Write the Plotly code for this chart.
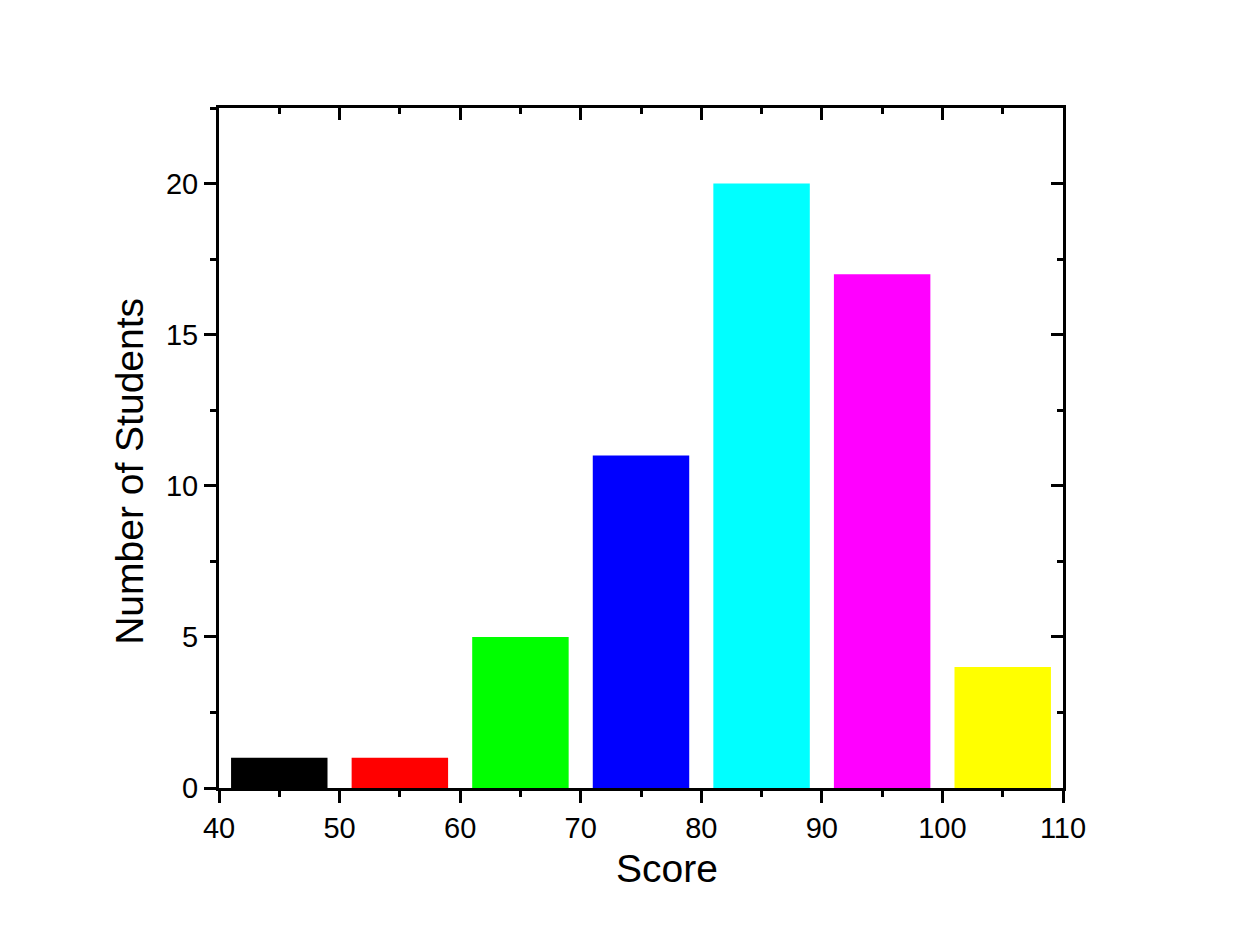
import plotly.graph_objects as go

scores = [45, 55, 65, 75, 85, 95, 105]
counts = [1, 1, 5, 11, 20, 17, 4]
colors = ["#000000", "#ff0000", "#00ff00", "#0000ff", "#00ffff", "#ff00ff", "#ffff00"]
x_ticks = [40, 50, 60, 70, 80, 90, 100, 110]
y_ticks = [0, 5, 10, 15, 20]

FONT = "Liberation Sans, Arial, sans-serif"

fig = go.Figure()
fig.add_trace(go.Bar(x=scores, y=counts, width=8, marker=dict(color=colors, line=dict(width=0)),
                     showlegend=False))
fig.add_trace(go.Scatter(x=[None], y=[None], xaxis="x2", yaxis="y2", showlegend=False))

common = dict(showline=True, linecolor="black", linewidth=3, showgrid=False, zeroline=False,
              tickcolor="black", tickwidth=3, ticklen=12)

fig.update_layout(
    width=1240, height=950,
    paper_bgcolor="white", plot_bgcolor="white",
    margin=dict(l=211, r=185, t=100, b=170),
    font=dict(family=FONT, color="black"),
    xaxis=dict(range=[40, 110], tickvals=x_ticks, ticks="outside",
               tickfont=dict(size=29),
               minor=dict(dtick=5, tick0=40, ticklen=6, tickwidth=3, tickcolor="black", ticks="outside"),
               **common),
    yaxis=dict(range=[0, 22.5], tickvals=y_ticks, ticks="outside",
               tickfont=dict(size=29),
               minor=dict(dtick=2.5, tick0=0, ticklen=6, tickwidth=3, tickcolor="black", ticks="outside"),
               **common),
    xaxis2=dict(range=[40, 110], tickvals=x_ticks, ticks="inside", overlaying="x", side="top",
                showticklabels=False, anchor="y2",
                minor=dict(dtick=5, tick0=40, ticklen=6, tickwidth=3, tickcolor="black", ticks="inside"),
                **common),
    yaxis2=dict(range=[0, 22.5], tickvals=y_ticks, ticks="inside", overlaying="y", side="right",
                showticklabels=False, anchor="x2",
                minor=dict(dtick=2.5, tick0=0, ticklen=6, tickwidth=3, tickcolor="black", ticks="inside"),
                **common),
    annotations=[
        dict(text="Score", xref="paper", yref="paper", x=0.531, y=0, yshift=-80,
             xanchor="center", yanchor="middle", showarrow=False, font=dict(size=39)),
        dict(text="Number of Students", xref="paper", yref="paper", x=0, xshift=-89, y=0.465,
             xanchor="center", yanchor="middle", textangle=-90, showarrow=False,
             font=dict(size=39)),
    ],
)

fig.write_html("out.html")
